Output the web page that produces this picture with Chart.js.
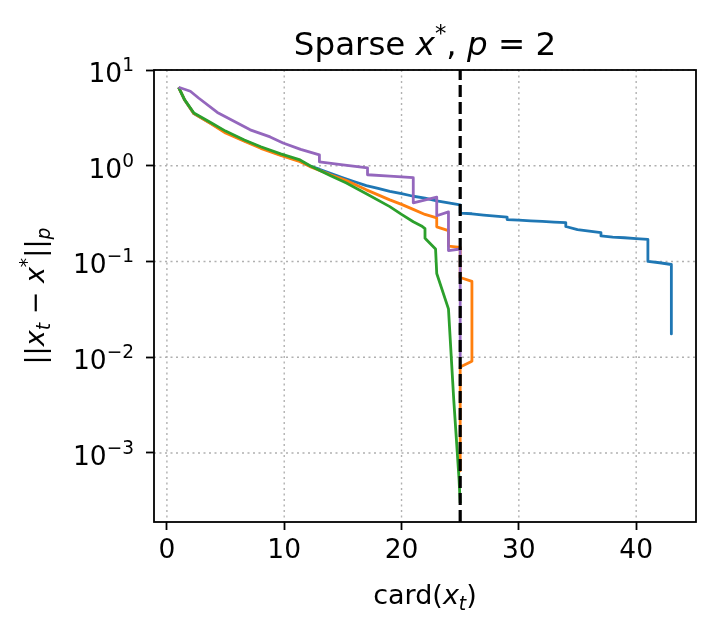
<!DOCTYPE html>
<html>
<head>
<meta charset="utf-8">
<title>Sparse x*, p = 2</title>
<script src="https://cdn.jsdelivr.net/npm/chart.js@4/dist/chart.umd.min.js"></script>
<style>
  body { margin: 0; background: #fff; }
  #wrap { width: 716px; height: 631px; }
</style>
</head>
<body>
<div id="wrap"><canvas id="chart" width="716" height="631"></canvas></div>
<script>
// card(x_t) and ||x_t - x*||_p, one pair of arrays per run
const blueCard = [1, 1.5, 2.3, 3.8, 5, 6.6, 8, 9.7, 11.35, 12.2, 13, 14, 15, 16, 17, 18, 19, 20, 21, 22, 23, 24, 25, 25, 26, 27, 28, 29, 29, 30, 31, 32, 33, 34, 34, 35, 36, 37, 37, 38, 39, 40, 41, 41, 42, 43, 43];
const blueErr = [6.6, 4.9, 3.5, 2.75, 2.25, 1.83, 1.55, 1.3, 1.12, 0.99, 0.92, 0.83, 0.75, 0.68, 0.62, 0.58, 0.54, 0.51, 0.48, 0.46, 0.43, 0.41, 0.39, 0.32, 0.315, 0.305, 0.297, 0.29, 0.274, 0.27, 0.266, 0.262, 0.258, 0.255, 0.232, 0.215, 0.207, 0.2, 0.185, 0.18, 0.177, 0.173, 0.17, 0.1, 0.097, 0.093, 0.0175];

const orangeCard = [1, 1.5, 2.3, 3.8, 5, 6.6, 8, 9.7, 11.35, 12.2, 14, 15.3, 17, 19, 20, 21, 22, 23, 23, 24, 24, 25, 25, 26, 26, 25, 25];
const orangeErr = [6.6, 4.9, 3.5, 2.72, 2.2, 1.8, 1.52, 1.28, 1.1, 0.98, 0.8, 0.7, 0.56, 0.44, 0.395, 0.35, 0.31, 0.285, 0.23, 0.21, 0.145, 0.14, 0.068, 0.062, 0.0091, 0.0079, 0.00065];

const greenCard = [1, 1.5, 2.3, 3.8, 5, 6.6, 8, 9.7, 11.35, 12.2, 14, 15.3, 17, 19, 20, 21, 21.7, 22, 22, 22.9, 23, 24, 24.45, 24.9, 25];
const greenErr = [6.6, 4.9, 3.55, 2.79, 2.3, 1.86, 1.58, 1.33, 1.15, 1.0, 0.78, 0.66, 0.51, 0.374, 0.31, 0.26, 0.235, 0.22, 0.175, 0.135, 0.075, 0.032, 0.0036, 0.00054, 0.0003];

const purpleCard = [1, 2, 2.7, 4.3, 7.1, 8.8, 9.9, 11.4, 13, 13, 15, 17.1, 17.1, 19, 21, 21, 23, 23, 24, 24, 25, 25];
const purpleErr = [6.6, 6.0, 5.1, 3.6, 2.37, 2.0, 1.73, 1.48, 1.3, 1.1, 1.02, 0.95, 0.805, 0.78, 0.75, 0.41, 0.47, 0.3, 0.33, 0.13, 0.135, 0.01];

const xTicks = [0, 10, 20, 30, 40];
const yTicks = [1e-3, 1e-2, 1e-1, 1, 10];
const yTickExp = ["\u22123", "\u22122", "\u22121", "0", "1"];
const targetCard = 25;

const FONT = "'DejaVu Sans', sans-serif";
const TICK_SIZE = 26.5;
const LABEL_SIZE = 27;
const TITLE_SIZE = 32.5;

function toPoints(xs, ys) {
  return xs.map((v, i) => ({ x: v, y: ys[i] }));
}

function series(xs, ys, color, order) {
  return {
    data: toPoints(xs, ys),
    borderColor: color,
    backgroundColor: color,
    borderWidth: 2.8,
    pointRadius: 0,
    showLine: true,
    tension: 0,
    borderJoinStyle: "round",
    order: order
  };
}

// mathtext-ish text: [text, italic, shift] shift -1 = subscript, 1 = superscript
function partFont(p, size) {
  const s = p[2] ? size * 0.7 : size;
  return (p[1] ? "italic " : "") + s + "px " + FONT;
}

function richWidth(ctx, parts, size) {
  let w = 0;
  parts.forEach(p => { ctx.font = partFont(p, size); w += ctx.measureText(p[0]).width; });
  return w;
}

function drawRich(ctx, parts, size, x, baseline, align) {
  const w = richWidth(ctx, parts, size);
  if (align === "center") x -= w / 2;
  if (align === "right") x -= w;
  ctx.textAlign = "left";
  ctx.textBaseline = "alphabetic";
  parts.forEach(p => {
    ctx.font = partFont(p, size);
    let dy = 0;
    if (p[2] === -1) dy = size * 0.22;
    if (p[2] === 1) dy = -size * 0.42;
    ctx.fillText(p[0], x, baseline + dy);
    x += ctx.measureText(p[0]).width;
  });
}

const decor = {
  id: "decor",
  beforeDatasetsDraw(chart) {
    const { ctx, chartArea: a, scales: { x, y } } = chart;
    ctx.save();
    ctx.strokeStyle = "#b0b0b0";
    ctx.lineWidth = 1.4;
    ctx.setLineDash([2, 3.5]);
    xTicks.forEach(v => {
      const px = x.getPixelForValue(v);
      ctx.beginPath(); ctx.moveTo(px, a.top); ctx.lineTo(px, a.bottom); ctx.stroke();
    });
    yTicks.forEach(v => {
      const py = y.getPixelForValue(v);
      ctx.beginPath(); ctx.moveTo(a.left, py); ctx.lineTo(a.right, py); ctx.stroke();
    });
    ctx.restore();
  },
  afterDatasetsDraw(chart) {
    const { ctx, chartArea: a, scales: { x } } = chart;
    ctx.save();
    // dashed vertical line at the true cardinality
    const px = x.getPixelForValue(targetCard);
    ctx.strokeStyle = "#000";
    ctx.lineWidth = 3.2;
    ctx.setLineDash([12, 5]);
    ctx.beginPath(); ctx.moveTo(px, a.bottom); ctx.lineTo(px, a.top); ctx.stroke();
    // frame
    ctx.setLineDash([]);
    ctx.lineWidth = 1.8;
    ctx.strokeRect(a.left, a.top, a.right - a.left, a.bottom - a.top);
    ctx.restore();
  },
  afterDraw(chart) {
    const { ctx, chartArea: a, scales: { y } } = chart;
    const cx = (a.left + a.right) / 2;
    const cy = (a.top + a.bottom) / 2;
    ctx.save();
    ctx.fillStyle = "#000";
    // y tick labels as 10 with a raised exponent
    yTicks.forEach((v, i) => {
      const py = y.getPixelForValue(v);
      drawRich(ctx, [["10", false, 0], [yTickExp[i], false, 1]], TICK_SIZE, 134, py + 12, "right");
    });
    drawRich(ctx, [["Sparse ", false, 0], ["x", true, 0], ["*", false, 1], [", ", false, 0], ["p", true, 0], [" = 2", false, 0]], TITLE_SIZE, cx, 55, "center");
    drawRich(ctx, [["card(", false, 0], ["x", true, 0], ["t", true, -1], [")", false, 0]], LABEL_SIZE, cx, 604, "center");
    ctx.translate(44, cy);
    ctx.rotate(-Math.PI / 2);
    drawRich(ctx, [["||", false, 0], ["x", true, 0], ["t", true, -1], [" \u2212 ", false, 0], ["x", true, 0], ["*", false, 1], ["||", false, 0], ["p", true, -1]], LABEL_SIZE, 0, 0, "center");
    ctx.restore();
  }
};

const tickStyle = {
  drawOnChartArea: false,
  drawTicks: true,
  tickLength: 8,
  tickWidth: 1.8,
  tickColor: "#000"
};

new Chart(document.getElementById("chart"), {
  type: "scatter",
  data: {
    datasets: [
      series(blueCard, blueErr, "#1f77b4", 4),
      series(orangeCard, orangeErr, "#ff7f0e", 3),
      series(greenCard, greenErr, "#2ca02c", 2),
      series(purpleCard, purpleErr, "#9467bd", 1)
    ]
  },
  options: {
    responsive: false,
    animation: false,
    devicePixelRatio: 1,
    layout: { padding: { top: 70, right: 20, left: 0, bottom: 0 } },
    plugins: { legend: { display: false }, title: { display: false }, tooltip: { enabled: false } },
    scales: {
      x: {
        type: "linear",
        min: -1.1,
        max: 45.1,
        grid: tickStyle,
        border: { display: false },
        afterBuildTicks: s => { s.ticks = xTicks.map(v => ({ value: v })); },
        afterFit: s => { s.height = 109; },
        ticks: { color: "#000", font: { family: FONT, size: TICK_SIZE }, padding: 5, maxRotation: 0 }
      },
      y: {
        type: "logarithmic",
        min: 1.9e-4,
        max: 10,
        grid: tickStyle,
        border: { display: false },
        afterBuildTicks: s => { s.ticks = yTicks.map(v => ({ value: v })); },
        afterFit: s => { s.width = 154; },
        ticks: { display: false }
      }
    }
  },
  plugins: [decor]
});
</script>
</body>
</html>
